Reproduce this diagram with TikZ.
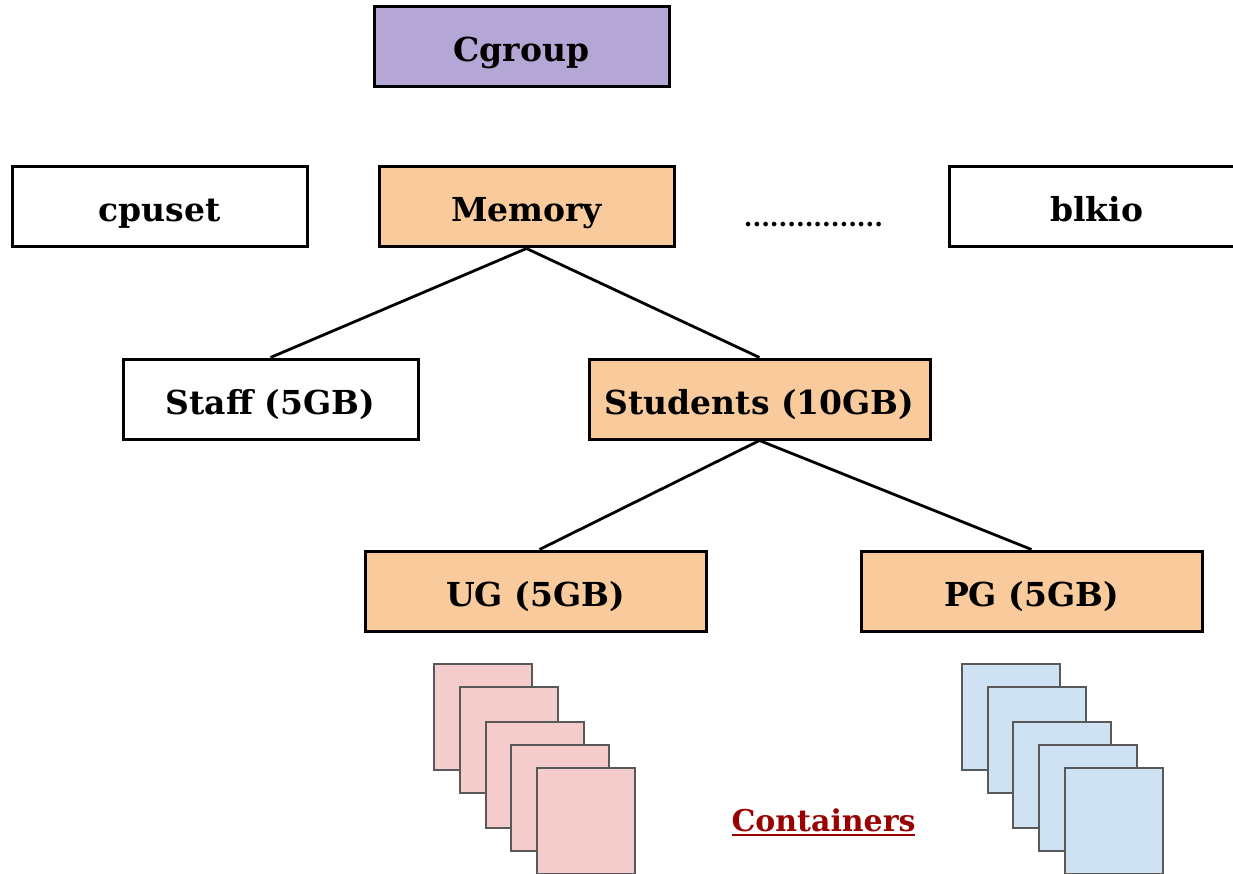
\documentclass[tikz,border=0pt]{standalone}
\usepackage{fontspec}
\setmainfont{DejaVu Serif}
\definecolor{purp}{HTML}{B4A7D6}
\definecolor{orng}{HTML}{F9CB9C}
\definecolor{pinkc}{HTML}{F4CCCC}
\definecolor{bluec}{HTML}{CFE2F3}
\definecolor{cedge}{HTML}{595959}
\definecolor{dred}{HTML}{990000}
\begin{document}
\begin{tikzpicture}[x=1pt,y=-1pt,
  box/.style={draw=black, line width=3pt, minimum height=80pt, inner sep=0pt,
    text height=30pt, text depth=0pt,
    font=\fontsize{33}{36}\selectfont\bfseries},
  wbox/.style={box, minimum width=295pt, fill=white},
  widebox/.style={box, minimum width=341pt},
  link/.style={line width=2.8pt, black},
  cont/.style={draw=cedge, line width=2pt, minimum width=98pt, minimum height=106pt, inner sep=0pt}
]
\useasboundingbox (0,0) rectangle (1233,874);
\node[wbox, fill=purp] (cgroup) at (521.5,47) {Cgroup};
\node[wbox] (cpuset) at (159.5,207) {cpuset};
\node[wbox, fill=orng] (memory) at (526.5,207) {Memory};
\node[font=\fontsize{25}{28}\selectfont\bfseries, inner sep=0pt, anchor=base] (dots) at (813.5,227) {................};
\node[wbox] (blkio) at (1096.5,207) {blkio};
\node[wbox] (staff) at (270.5,399) {Staff (5GB)};
\node[widebox, fill=orng] (students) at (759.5,399) {Students (10GB)};
\node[widebox, fill=orng] (ug) at (535.5,591) {UG (5GB)};
\node[widebox, fill=orng] (pg) at (1031.5,591) {PG (5GB)};
\draw[link] (memory.south) -- (staff.north);
\draw[link] (memory.south) -- (students.north);
\draw[link] (students.south) -- ([xshift=4pt]ug.north);
\draw[link] (students.south) -- (pg.north);
% containers
\node[cont, fill=pinkc] (p1) at (482.7,717) {};
\node[cont, fill=pinkc] (p2) at (509,740) {};
\node[cont, fill=pinkc] (p3) at (534.7,775) {};
\node[cont, fill=pinkc] (p4) at (560.3,798.3) {};
\node[cont, fill=pinkc] (p5) at (586,821) {};
\node[cont, fill=bluec] (b1) at (1011,717) {};
\node[cont, fill=bluec] (b2) at (1036.7,740) {};
\node[cont, fill=bluec] (b3) at (1062.3,775) {};
\node[cont, fill=bluec] (b4) at (1088,798) {};
\node[cont, fill=bluec] (b5) at (1114,821) {};
\node[text=dred, font=\fontsize{30}{34}\selectfont\bfseries, inner sep=0pt, anchor=base] (ctext) at (823.5,831) {Containers};
\coordinate (ul1) at (732,835);
\coordinate (ul2) at (915,835);
\draw[dred, line width=2.5pt] (ul1) -- (ul2);
\end{tikzpicture}
\end{document}
